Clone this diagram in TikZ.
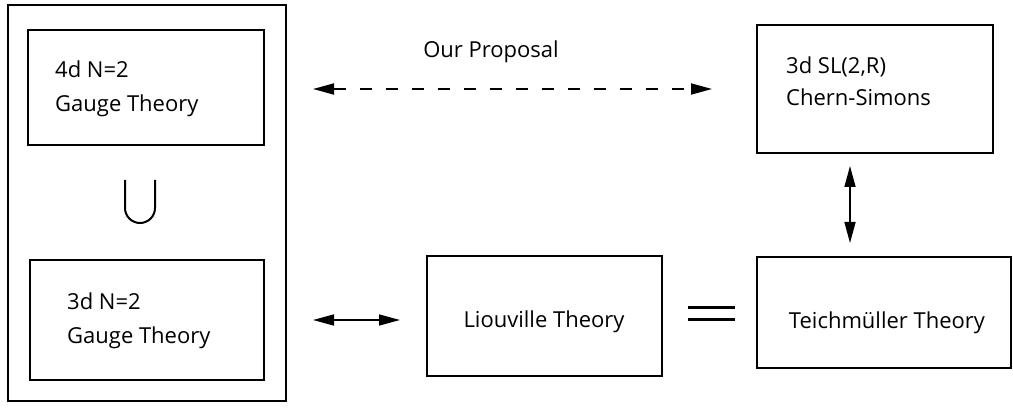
\documentclass[tikz,border=0pt]{standalone}
\usepackage{fontspec}
\setmainfont{Open Sans}
\usetikzlibrary{arrows.meta}
\begin{document}
\begin{tikzpicture}[x=1pt,y=-1pt,
  box/.style={draw, line width=2.6pt, inner sep=0pt, fill=none},
  txt/.style={font=\fontsize{22}{28}\selectfont, inner sep=0pt, text=black},
  dbl/.style={{Triangle[length=21pt,width=11pt]}-{Triangle[length=21pt,width=11pt]}, line width=1.6pt}]
\useasboundingbox (0,0) rectangle (1013,409);
% boxes
\node[box, minimum width=278pt, minimum height=396pt] (outer) at (147,203) {};
\node[box, minimum width=236pt, minimum height=115pt] (b4d) at (146,87.5) {};
\node[box, minimum width=234pt, minimum height=120pt] (b3d) at (147,320) {};
\node[box, minimum width=235pt, minimum height=120pt] (liou) at (544.5,316) {};
\node[box, minimum width=254pt, minimum height=111pt] (teich) at (884,312.5) {};
\node[box, minimum width=236pt, minimum height=128pt] (cs) at (875,89) {};
% texts
\node[txt, anchor=base west] (t4a) at (55,78) {4d N=2};
\node[txt, anchor=base west] (t4b) at (55,112) {Gauge Theory};
\node[txt, anchor=base west] (t3a) at (67,309) {3d N=2};
\node[txt, anchor=base west] (t3b) at (67,343) {Gauge Theory};
\node[txt, anchor=base] (tl) at (544,327) {Liouville Theory};
\node[txt, anchor=base] (tt) at (887,328) {Teichmüller Theory};
\node[txt, anchor=base west] (tca) at (786,74) {3d SL(2,R)};
\node[txt, anchor=base west] (tcb) at (786,106) {Chern-Simons};
\node[txt, anchor=base] (tp) at (491,58) {Our Proposal};
% union symbol
\draw[line width=2pt] (125,180) -- (125,208) arc[start angle=180, end angle=0, radius=15] -- (155,180);
% arrows
\coordinate (da) at (313,89);
\coordinate (db) at (712,89);
\draw[dbl, line width=1.8pt, dash pattern=on 12pt off 14pt] (da) -- (db);
\coordinate (la) at (313,320);
\coordinate (lb) at (400,320);
\draw[dbl] (la) -- (lb);
\coordinate (va) at (850,166);
\coordinate (vb) at (850,243);
\draw[dbl] (va) -- (vb);
% equals
\coordinate (ea) at (688,307);
\coordinate (eb) at (735,307);
\coordinate (ec) at (688,319);
\coordinate (ed) at (735,319);
\draw[line width=3pt] (ea) -- (eb) (ec) -- (ed);
\end{tikzpicture}
\end{document}
